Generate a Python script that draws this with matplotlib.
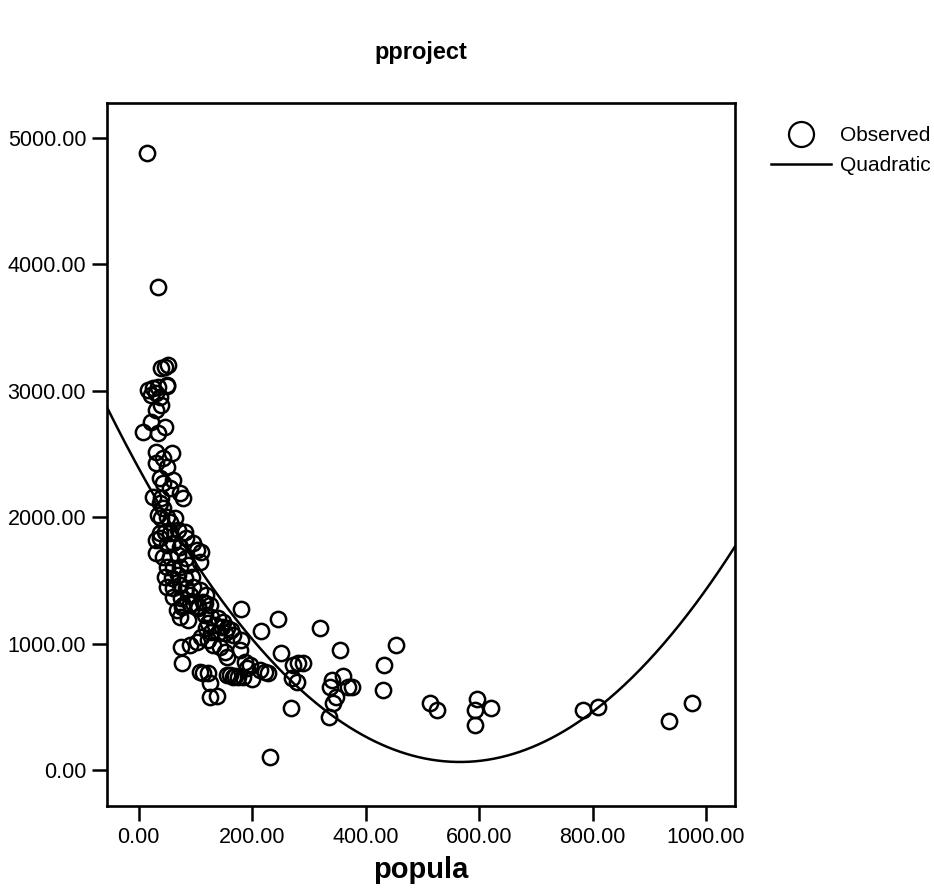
import numpy as np
import matplotlib
matplotlib.use("Agg")
import matplotlib.pyplot as plt
from matplotlib.lines import Line2D

plt.rcParams["font.family"] = ["Liberation Sans", "DejaVu Sans"]

# Observed points (popula, pproject)
popula = [
    14, 33, 40, 46, 52, 49,
    16, 25, 34, 49, 22, 31, 37, 40, 31, 22, 8, 34, 46,
    31, 58, 43, 31, 49, 37, 60, 43, 55, 72, 25, 40, 78,
    37, 43, 34, 40, 49, 55, 63,
    37, 46, 55, 69, 81, 84, 31, 37,
    49, 60, 72, 96, 102,
    31, 43, 55, 69, 84, 110, 107,
    49, 60, 72, 87,
    46, 58, 69, 81, 93,
    49, 60, 72, 84, 96,
    60, 75, 90, 107, 119,
    78, 96, 113, 125, 105,
    67, 76, 90, 104, 116, 72, 86,
    116, 128, 140, 148, 122, 134, 146, 155, 128, 140, 152, 119,
    163, 166, 110, 122,
    75, 90, 102, 76, 107, 113, 122, 125, 125, 137,
    155, 166, 174, 183, 190, 196, 213, 222, 227, 187,
    181, 178, 152, 155, 143, 130,
    181, 245, 215, 319, 354, 251, 433, 430, 160, 170, 200,
    272, 280, 289, 270, 278, 269, 231,
    340, 337, 360, 368, 375, 348, 342, 335,
    454, 514, 526, 597, 592, 621, 592,
    783, 810, 934, 975,
]
pproject = [
    4880, 3819, 3178, 3191, 3204, 3046,
    3006, 3019, 3033, 3038, 2967, 2980, 2953, 2888, 2848, 2756, 2677, 2664, 2716,
    2518, 2510, 2466, 2427, 2400, 2308, 2294, 2268, 2228, 2189, 2162, 2149, 2149,
    2110, 2069, 2017, 1991, 2004, 1964, 1991,
    1873, 1886, 1873, 1899, 1886, 1833, 1820, 1833,
    1780, 1793, 1767, 1793, 1741,
    1714, 1688, 1688, 1701, 1675, 1727, 1648,
    1609, 1596, 1609, 1622,
    1530, 1517, 1543, 1517, 1530,
    1451, 1438, 1464, 1438, 1451,
    1372, 1359, 1385, 1424, 1385,
    1305, 1319, 1332, 1305, 1279,
    1266, 1290, 1310, 1300, 1320, 1210, 1187,
    1226, 1213, 1200, 1173, 1160, 1147, 1134, 1121, 1094, 1081, 1081, 1121,
    1108, 1068, 1055, 1028,
    975, 989, 1015, 844, 775, 767, 767, 688, 578, 585,
    752, 736, 736, 736, 807, 830, 791, 775, 767, 854,
    1028, 949, 933, 896, 973, 989,
    1270, 1198, 1102, 1123, 949, 928, 830, 630, 750, 740, 720,
    830, 846, 846, 728, 696, 489, 100,
    712, 657, 744, 657, 657, 578, 530, 420,
    989, 532, 475, 559, 475, 488, 356,
    475, 496, 390, 532,
]

# Quadratic fit coefficients (b0 + b1*x + b2*x^2)
quad_coef = [2386.0, -8.207, 0.00725]

x_ticks = [0, 200, 400, 600, 800, 1000]
y_ticks = [0, 1000, 2000, 3000, 4000, 5000]

fig = plt.figure(figsize=(9.34, 8.93), dpi=100)
ax = fig.add_axes([0.1146, 0.0974, 0.6724, 0.7873])

xlim = (-56, 1051)
ylim = (-285, 5277)

xs = np.linspace(xlim[0], xlim[1], 400)
ys = quad_coef[0] + quad_coef[1] * xs + quad_coef[2] * xs ** 2
ax.plot(xs, ys, color="black", lw=1.8, zorder=2)

ax.plot(popula, pproject, ls="none", marker="o", ms=11, mfc="none",
        mec="black", mew=1.8, zorder=3)

ax.set_xlim(*xlim)
ax.set_ylim(*ylim)
ax.set_xticks(x_ticks)
ax.set_yticks(y_ticks)
ax.set_xticklabels([f"{t:.2f}" for t in x_ticks])
ax.set_yticklabels([f"{t:.2f}" for t in y_ticks])
ax.tick_params(direction="out", length=11, width=1.8, labelsize=15.5, pad=4)
for sp in ax.spines.values():
    sp.set_linewidth(1.9)

ax.set_xlabel("popula", fontsize=21, fontweight="bold", labelpad=6)
ax.set_title("pproject", fontsize=17, fontweight="bold", pad=32)

handles = [
    Line2D([], [], ls="none", marker="o", ms=18, mfc="none", mec="black", mew=1.6),
    Line2D([], [], color="black", lw=1.8),
]
fig.legend(handles, ["Observed", "Quadratic"], loc="upper left",
           bbox_to_anchor=(0.805, 0.88), frameon=False, fontsize=15,
           handlelength=2.9, handletextpad=0.45, labelspacing=0.55)

fig.savefig("out.png", dpi=100)
